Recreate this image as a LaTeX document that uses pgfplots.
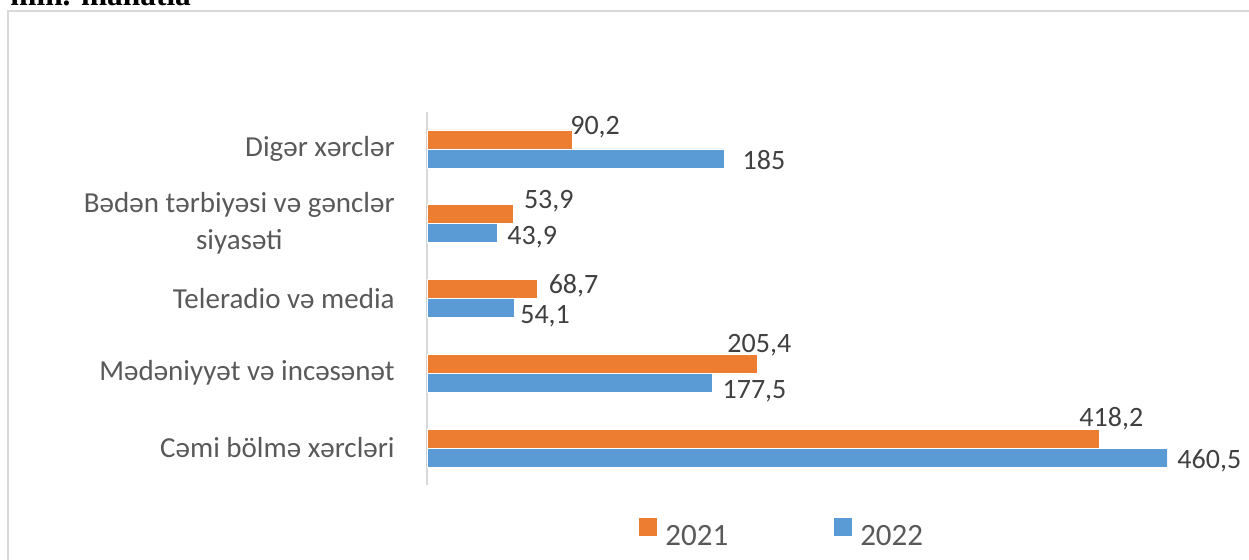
\documentclass[border=0pt]{standalone}
\usepackage{fontspec}
\setmainfont{Carlito}
\newfontfamily\titlefont{Liberation Serif}
\usepackage{pgfplots}
\pgfplotsset{compat=1.18}

\definecolor{c2021}{HTML}{ED7D31}
\definecolor{c2022}{HTML}{5B9BD5}
\definecolor{labgray}{HTML}{595959}
\definecolor{valgray}{HTML}{404040}
\definecolor{framegray}{HTML}{D9D9D9}

\begin{document}
\begin{tikzpicture}
\useasboundingbox (0,0) rectangle (624.5pt,279.5pt);
\clip (0,0) rectangle (624.5pt,279.5pt);
\draw[framegray, line width=1pt] (4pt,274pt) rectangle (640pt,-10pt);
\node[anchor=base west, inner sep=0pt, font=\titlefont\bfseries\fontsize{15.7}{18}\selectfont]
  at (5pt,277pt) {mln. manatla};
\begin{axis}[
    at={(213.5pt,36.8pt)}, anchor=south west,
    scale only axis,
    width=370pt, height=186.9pt,
    xbar,
    bar width=9.5pt,
    xmin=0, xmax=460.5,
    ymin=-0.5, ymax=4.5,
    axis x line=none,
    axis y line*=left,
    y axis line style={framegray, line width=0.8pt},
    xtick=\empty,
    ytick={0,1,2,3,4},
    major tick length=0pt,
    yticklabels={Cəmi bölmə xərcləri, Mədəniyyət və incəsənət, Teleradio və media, {Bədən tərbiyəsi və gənclər\\siyasəti}, Digər xərclər},
    yticklabel style={font=\fontsize{14.5}{18.5}\selectfont, text=labgray, align=center, inner sep=0pt, anchor=east, xshift=-16pt},
    point meta=x,
    nodes near coords,
    nodes near coords style={font=\fontsize{14}{16}\selectfont, text=valgray, anchor=west, inner sep=0pt, text height=8.85pt, text depth=0pt,
        xshift=0.5pt*(\dx), yshift=0.5pt*(\dy)},
    /pgf/number format/.cd, use comma, fixed, precision=1, assume math mode=true,
    /pgfplots/.cd,
    legend columns=2,
    legend image code/.code={\fill[#1, draw=none] (0pt,0pt) rectangle (9pt,9pt);},
    legend style={at={(0.2865,-0.1247)}, anchor=west, draw=none, fill=none, inner sep=0pt,
        font=\fontsize{15.5}{18}\selectfont, text=labgray,
        nodes={inner sep=0pt, text height=9.8pt, text depth=0pt, anchor=center},
        /tikz/every odd column/.append style={column sep=4pt},
        /tikz/every even column/.append style={column sep=53pt}},
]
% y: category index, x: value, dx/dy: label offset in px (dy up)
\addplot[fill=c2021, draw=white, line width=0.4pt, bar shift=4.75pt, forget plot,
    visualization depends on={value \thisrow{dx} \as \dx},
    visualization depends on={value \thisrow{dy} \as \dy}] table[x=x, y=y] {
y x dx dy
0 418.2 -20 21
1 205.4 -30 20.5
2 68.7 11 4.5
3 53.9 10 14.5
4 90.2 -2 13.5
};
\addplot[fill=c2022, draw=white, line width=0.4pt, bar shift=-4.75pt, forget plot,
    visualization depends on={value \thisrow{dx} \as \dx},
    visualization depends on={value \thisrow{dy} \as \dy}] table[x=x, y=y] {
y x dx dy
0 460.5 10 -2.5
1 177.5 10 -7
2 54.1 6 -6.5
3 43.9 9.5 -2
4 185 18 -2
};
\addlegendimage{fill=c2021}
\addlegendentry{2021}
\addlegendimage{fill=c2022}
\addlegendentry{2022}
\end{axis}
\end{tikzpicture}
\end{document}
